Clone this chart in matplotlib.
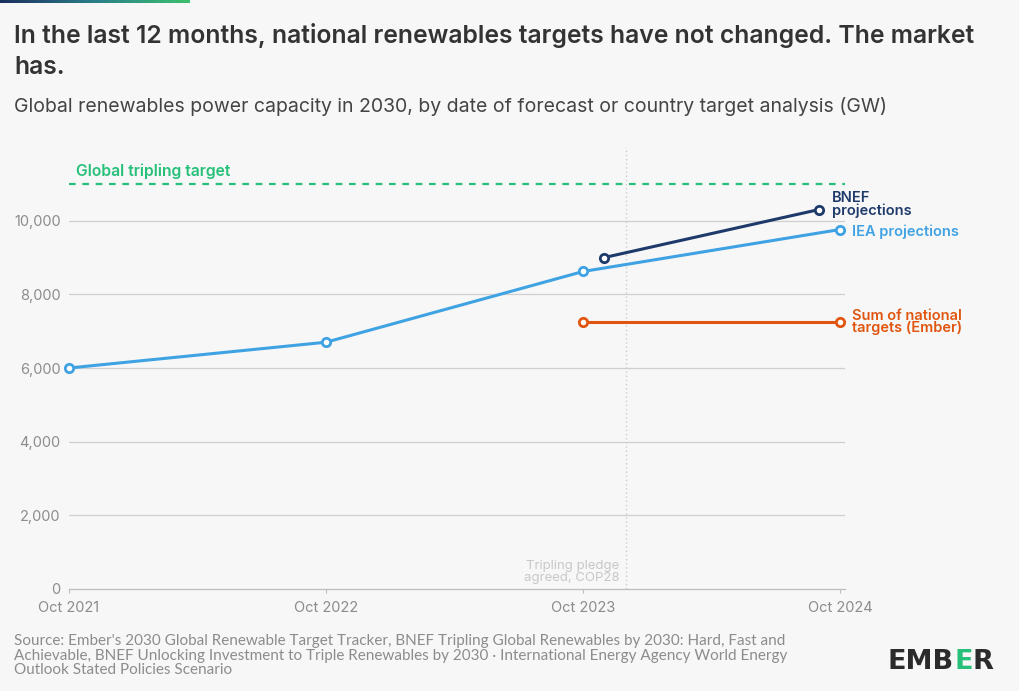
import matplotlib
matplotlib.use("Agg")
import matplotlib.pyplot as plt
import numpy as np
from matplotlib.colors import LinearSegmentedColormap

# Data (months since Oct 2021)
tick_pos = [0, 12, 24, 36]
tick_labels = ["Oct 2021", "Oct 2022", "Oct 2023", "Oct 2024"]
iea_x = [0, 12, 24, 36]
iea_y = [6000, 6700, 8620, 9760]
bnef_x = [25, 35]
bnef_y = [9000, 10300]
ember_x = [24, 36]
ember_y = [7240, 7240]
tripling_target = 11000
cop28_x = 26
y_ticks = [0, 2000, 4000, 6000, 8000, 10000]

BG = "#f7f7f7"
IEA_C = "#3fa2e3"
BNEF_C = "#1d3a6b"
EMBER_C = "#e0550f"
GREEN = "#27c07a"
FONT = "Inter"

plt.rcParams['font.family'] = [FONT, 'DejaVu Sans']

fig = plt.figure(figsize=(10.2, 6.91), dpi=100, facecolor=BG)
ax = fig.add_axes([69/1020, 1 - 589/691, (845-69)/1020, (589-147)/691], facecolor=BG)

ax.set_xlim(0, 36.23)
ax.set_ylim(0, 12000)

for y in y_ticks[1:]:
    ax.axhline(y, color="#cfcfcf", lw=0.9, zorder=1)

for s in ["top", "right", "left"]:
    ax.spines[s].set_visible(False)
ax.spines["bottom"].set_color("#bdbdbd")
ax.spines["bottom"].set_linewidth(0.9)

ax.set_xticks(tick_pos)
ax.set_xticklabels(tick_labels, fontsize=10.5, color="#8c8c8c")
ax.set_yticks(y_ticks)
ax.set_yticklabels([f"{v:,}" for v in y_ticks], fontsize=10.5, color="#8c8c8c")
ax.tick_params(axis="x", length=3, color="#bdbdbd", pad=6)
ax.tick_params(axis="y", length=0, pad=6)

# tripling target
ax.plot([0, 36.23], [tripling_target]*2, color=GREEN, lw=1.6, ls=(0, (3, 3)), zorder=2, clip_on=False)
ax.text(0.35, tripling_target + 330, "Global tripling target", color=GREEN, fontsize=11.3,
        fontweight="semibold", va="center", ha="left")

# COP28 line
ax.plot([cop28_x, cop28_x], [0, 12000], color="#cccccc", lw=1.0, ls=(0, (1, 2)), zorder=1, clip_on=False)
ax.text(cop28_x - 0.3, 130, "Tripling pledge\nagreed, COP28", color="#c8c8c8", fontsize=9.5,
        ha="right", va="bottom", linespacing=1.05)

mk = dict(marker="o", markersize=6, markerfacecolor="white", markeredgewidth=2, clip_on=False, zorder=4)
ax.plot(iea_x, iea_y, color=IEA_C, lw=2.2, **mk)
ax.plot(bnef_x, bnef_y, color=BNEF_C, lw=2.2, **mk)
ax.plot(ember_x, ember_y, color=EMBER_C, lw=2.2, **mk)

ax.text(35.6, 10300 + 130, "BNEF\nprojections", color=BNEF_C, fontsize=10.5, fontweight="semibold",
        ha="left", va="center", linespacing=0.85)
ax.text(36.55, iea_y[-1] - 50, "IEA projections", color=IEA_C, fontsize=10.5, fontweight="semibold",
        ha="left", va="center")
ax.text(36.55, ember_y[-1] + 10, "Sum of national\ntargets (Ember)", color=EMBER_C, fontsize=10.5,
        fontweight="semibold", ha="left", va="center", linespacing=0.85)

# Title & subtitle
fig.text(14/1020, 1 - 35/691, "In the last 12 months, national renewables targets have not changed. The market",
         fontsize=17.8, fontweight="semibold", color="#333333", va="center", ha="left")
fig.text(14/1020, 1 - 68/691, "has.", fontsize=17.8, fontweight="semibold", color="#333333", va="center", ha="left")
fig.text(14/1020, 1 - 106/691,
         "Global renewables power capacity in 2030, by date of forecast or country target analysis (GW)",
         fontsize=14, color="#444444", va="center", ha="left")

# top gradient bar
bar_ax = fig.add_axes([0, 1 - 3/691, 190/1020, 3/691])
cmap = LinearSegmentedColormap.from_list("g", ["#1b2f5e", "#2a7f8a", "#3cc06e"])
bar_ax.imshow(np.linspace(0, 1, 256)[None, :], aspect="auto", cmap=cmap)
bar_ax.axis("off")

# Source
fig.text(14/1020, 1 - 634/691,
         "Source: Ember's 2030 Global Renewable Target Tracker, BNEF Tripling Global Renewables by 2030: Hard, Fast and\n"
         "Achievable, BNEF Unlocking Investment to Triple Renewables by 2030 \u00b7 International Energy Agency World Energy\n"
         "Outlook Stated Policies Scenario",
         fontsize=11, color="#8c8c8c", va="top", ha="left", linespacing=1.05, family="Lato")

# Logo
lx = 888/1020
ly = 1 - 662/691
t1 = fig.text(lx, ly, "EMB", fontsize=19.5, fontweight="bold", color="#2b2b2b", va="center", ha="left",
              family="DejaVu Sans")
fig.canvas.draw()
r = fig.canvas.get_renderer()
bb = t1.get_window_extent(renderer=r)
t2 = fig.text(bb.x1 / fig.bbox.width, ly, "E", fontsize=19.5, fontweight="bold", color="#27c07a",
              va="center", ha="left", family="DejaVu Sans")
bb2 = t2.get_window_extent(renderer=r)
fig.text(bb2.x1 / fig.bbox.width, ly, "R", fontsize=19.5, fontweight="bold", color="#2b2b2b",
         va="center", ha="left", family="DejaVu Sans")

fig.savefig("out.png", dpi=100, facecolor=BG)
